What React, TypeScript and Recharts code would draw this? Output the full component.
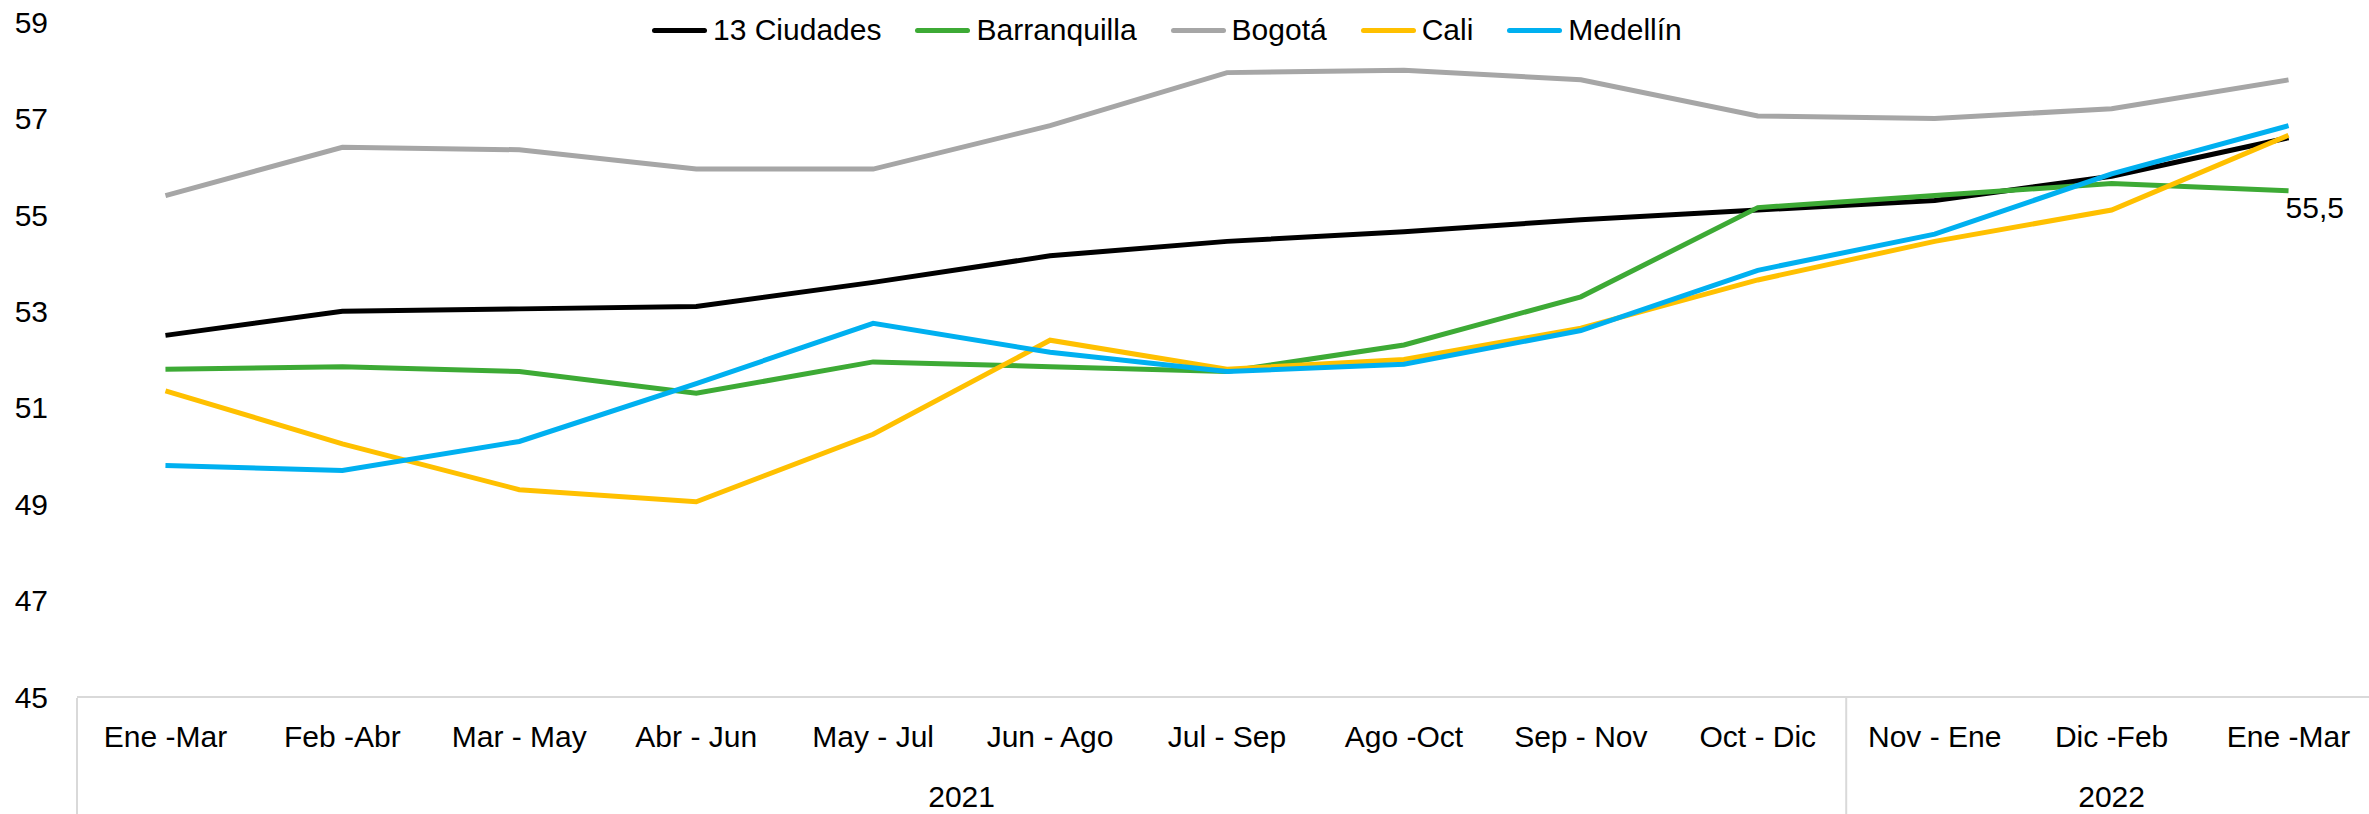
// Índice por ciudades, trimestres móviles 2021-2022
// Recharts LineChart con eje de categorías agrupado por año

import React from "react"
import { LineChart, Line, XAxis, YAxis, Legend, LabelList } from "recharts"

const FONT = '"Liberation Sans", Arial, sans-serif'

const periods = [
  "Ene -Mar", "Feb -Abr", "Mar - May", "Abr - Jun", "May - Jul", "Jun - Ago", "Jul - Sep",
  "Ago -Oct", "Sep - Nov", "Oct - Dic", "Nov - Ene", "Dic -Feb", "Ene -Mar",
]
const periodYears = [
  "2021", "2021", "2021", "2021", "2021", "2021", "2021", "2021", "2021", "2021",
  "2022", "2022", "2022",
]
const yTicks = [45, 47, 49, 51, 53, 55, 57, 59]

const ciudades13 = [52.5, 53.0, 53.05, 53.1, 53.6, 54.15, 54.45, 54.65, 54.9, 55.1, 55.3, 55.8, 56.6]
const barranquilla = [51.8, 51.85, 51.75, 51.3, 51.95, 51.85, 51.75, 52.3, 53.3, 55.15, 55.4, 55.65, 55.5]
const bogota = [55.4, 56.4, 56.35, 55.95, 55.95, 56.85, 57.95, 58.0, 57.8, 57.05, 57.0, 57.2, 57.8]
const cali = [51.35, 50.25, 49.3, 49.05, 50.45, 52.4, 51.8, 52.0, 52.65, 53.65, 54.45, 55.1, 56.65]
const medellin = [49.8, 49.7, 50.3, 51.5, 52.75, 52.15, 51.75, 51.9, 52.6, 53.85, 54.6, 55.85, 56.85]

const series = [
  { key: "c13", name: "13 Ciudades", color: "#000000" },
  { key: "baq", name: "Barranquilla", color: "#3daa35" },
  { key: "bog", name: "Bogotá", color: "#a6a6a6" },
  { key: "cal", name: "Cali", color: "#ffc000" },
  { key: "med", name: "Medellín", color: "#00b0f0" },
]

const data = periods.map((period, i) => ({
  period,
  year: periodYears[i],
  c13: ciudades13[i],
  baq: barranquilla[i],
  bog: bogota[i],
  cal: cali[i],
  med: medellin[i],
}))

const CHART_W = 2377
const Y_AXIS_W = 77
// half of one category slot, so points sit in the middle of their slot
const HALF_SLOT = (CHART_W - Y_AXIS_W) / periods.length / 2
const AXIS_GRAY = "#d9d9d9"

const PeriodTick = (props: any) => {
  const { x, y, payload } = props
  return (
    <text x={x} y={y} dy="0.71em" textAnchor="middle" fill="#000" fontSize={30} fontFamily={FONT}>
      {payload.value}
    </text>
  )
}

const YearTick = (props: any) => {
  const { x, y, index } = props
  const yr = periodYears[index]
  const isStart = index === 0 || periodYears[index - 1] !== yr
  if (!isStart) return null
  let end = index
  while (end + 1 < periodYears.length && periodYears[end + 1] === yr) end++
  const center = x + (end - index) * HALF_SLOT
  const left = x - HALF_SLOT
  return (
    <g>
      <line x1={left} x2={left} y1={y - 88} y2={y + 60} stroke={AXIS_GRAY} strokeWidth={2} />
      <text x={center} y={y} dy="0.71em" textAnchor="middle" fill="#000" fontSize={30} fontFamily={FONT}>
        {yr}
      </text>
    </g>
  )
}

const ValueTick = (props: any) => {
  const { x, y, payload } = props
  return (
    <text x={x} y={y} dy="0.355em" textAnchor="end" fill="#000" fontSize={30} fontFamily={FONT}>
      {payload.value}
    </text>
  )
}

const LastLabel = (props: any) => {
  const { x, y, index, value } = props
  if (index !== periods.length - 1) return null
  return (
    <text x={x - 3} y={y + 17} dy="0.355em" textAnchor="start" fill="#000" fontSize={30} fontFamily={FONT}>
      {Number(value).toFixed(1).replace(".", ",")}
    </text>
  )
}

const renderLegend = () => (
  <div style={{ display: "flex", gap: 34, fontFamily: FONT, fontSize: 30, color: "#000" }}>
    {series.map((s) => (
      <div key={s.key} style={{ display: "flex", alignItems: "center" }}>
        <span
          style={{
            display: "inline-block",
            width: 55,
            height: 5,
            borderRadius: 3,
            background: s.color,
            marginRight: 6,
          }}
        />
        <span>{s.name}</span>
      </div>
    ))}
  </div>
)

export default function App() {
  return (
    <div
      style={{
        position: "absolute",
        left: 0,
        top: 0,
        width: 2369,
        height: 814,
        overflow: "hidden",
        background: "#fff",
      }}
    >
      <LineChart width={CHART_W} height={814} data={data} margin={{ top: 22, right: 0, bottom: 0, left: 0 }}>
        <XAxis
          dataKey="period"
          interval={0}
          height={72}
          padding={{ left: HALF_SLOT, right: HALF_SLOT }}
          tickLine={false}
          tickMargin={23}
          axisLine={{ stroke: AXIS_GRAY, strokeWidth: 2 }}
          tick={<PeriodTick />}
        />
        <XAxis
          xAxisId="year"
          dataKey="period"
          interval={0}
          height={45}
          padding={{ left: HALF_SLOT, right: HALF_SLOT }}
          tickLine={false}
          tickMargin={11}
          axisLine={false}
          tick={<YearTick />}
        />
        <YAxis
          width={Y_AXIS_W}
          domain={[45, 59]}
          ticks={yTicks}
          interval={0}
          tickLine={false}
          axisLine={false}
          tickMargin={23}
          tick={<ValueTick />}
        />
        <Legend
          layout="vertical"
          align="center"
          verticalAlign="top"
          content={renderLegend}
          wrapperStyle={{ top: 13, left: 652, height: 0, overflow: "visible" }}
        />
        {series.map((s) => (
          <Line
            key={s.key}
            type="linear"
            dataKey={s.key}
            name={s.name}
            stroke={s.color}
            strokeWidth={5}
            dot={false}
            activeDot={false}
            isAnimationActive={false}
          >
            {s.key === "baq" && <LabelList dataKey="baq" content={<LastLabel />} />}
          </Line>
        ))}
      </LineChart>
    </div>
  )
}
